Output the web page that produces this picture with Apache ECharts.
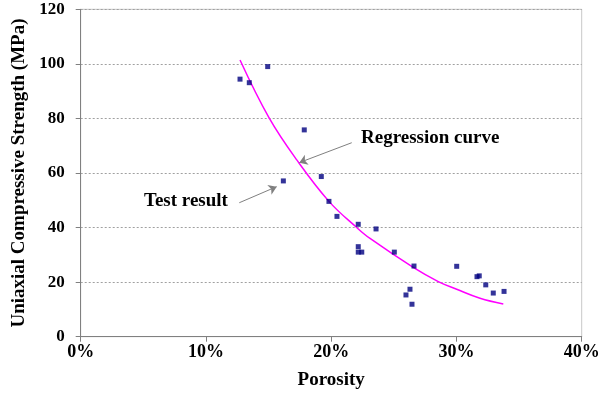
<!DOCTYPE html>
<html>
<head>
<meta charset="utf-8">
<script src="https://cdn.jsdelivr.net/npm/echarts@6/dist/echarts.min.js"></script>
<style>html,body{margin:0;padding:0;background:#fff}#c{width:598px;height:401px}</style>
</head>
<body>
<div id="c"></div>
<script>
// Test results: porosity (%) and UCS (MPa)
var porosity = [12.72, 13.46, 14.93, 17.85, 16.18, 19.21, 19.82, 20.46, 22.16, 23.58, 22.16, 22.16, 22.44, 25.04, 26.61, 30.02, 31.64, 31.82, 32.34, 32.94, 33.80, 26.29, 25.97, 26.45];
var strength = [94.4, 93.1, 99.0, 75.8, 57.1, 58.7, 49.6, 44.1, 41.2, 39.5, 33.0, 31.0, 31.0, 31.0, 25.9, 25.8, 22.0, 22.3, 19.0, 16.0, 16.6, 17.4, 15.3, 11.9];
// Regression curve
var curveX = [12.72, 15.03, 17.25, 19.82, 22.04, 23.10, 26.55, 28.55, 30.02, 31.88, 33.74];
var curveY = [101.4, 80.3, 64.8, 49.6, 40.0, 36.0, 25.4, 20.2, 17.4, 14.1, 12.0];
var xTicks = [0, 10, 20, 30, 40];
var yTicks = [0, 20, 40, 60, 80, 100, 120];

var pts = porosity.map(function (x, i) { return [x, strength[i]]; });
var curve = curveX.map(function (x, i) { return [x, curveY[i]]; });

var font = '"Liberation Serif", "Times New Roman", serif';
var chart = echarts.init(document.getElementById('c'));
chart.setOption({
  animation: false,
  backgroundColor: '#fff',
  grid: { left: 80.7, right: 16.3, top: 9.3, bottom: 64.3, show: true, borderColor: '#c8c8c8', borderWidth: 1,
    containLabel: false, outerBoundsMode: 'none' },
  xAxis: {
    type: 'value', min: xTicks[0], max: xTicks[xTicks.length - 1], interval: 10,
    name: 'Porosity', nameLocation: 'middle', nameGap: 34,
    nameTextStyle: { fontFamily: font, fontWeight: 'bold', fontSize: 19, color: '#000' },
    axisLine: { show: true, lineStyle: { color: '#808080', width: 1 } },
    axisTick: { show: true, length: 5, lineStyle: { color: '#808080' } },
    axisLabel: { fontFamily: font, fontWeight: 'bold', fontSize: 18, color: '#000', margin: 7,
      formatter: function (v) { return v + '%'; } },
    splitLine: { show: false }
  },
  yAxis: {
    type: 'value', min: yTicks[0], max: yTicks[yTicks.length - 1], interval: 20,
    name: 'Uniaxial Compressive Strength (MPa)', nameLocation: 'middle', nameGap: 52,
    nameTextStyle: { fontFamily: font, fontWeight: 'bold', fontSize: 19, color: '#000' },
    axisLine: { show: true, lineStyle: { color: '#808080', width: 1 } },
    axisTick: { show: true, length: 5, lineStyle: { color: '#808080' } },
    axisLabel: { fontFamily: font, fontWeight: 'bold', fontSize: 17, color: '#000', margin: 16 },
    splitLine: { show: true, lineStyle: { color: '#a0a0a0', type: [2, 2], width: 1 } }
  },
  series: [
    {
      type: 'line', data: curve, smooth: 0.4, symbol: 'none',
      lineStyle: { color: '#ff00ff', width: 1.5 },
      z: 2,
      markLine: {
        silent: true, symbol: ['none', 'arrow'], symbolSize: 8,
        lineStyle: { color: '#808080', width: 1, type: 'solid' },
        itemStyle: { color: '#808080' },
        label: { show: false },
        data: [
          [{ coord: [21.64, 71.1], symbol: 'none' }, { coord: [17.45, 63.8], symbol: 'arrow', symbolSize: 8 }],
          [{ coord: [12.66, 49.1], symbol: 'none' }, { coord: [15.65, 55.0], symbol: 'arrow', symbolSize: 8 }]
        ]
      }
    },
    {
      type: 'scatter', data: pts, symbol: 'rect', symbolSize: 5,
      itemStyle: { color: '#000080' }, z: 3
    }
  ],
  graphic: [
    { type: 'text', left: 361, top: 129, style: { text: 'Regression curve', font: 'bold 19px ' + font, fill: '#000' } },
    { type: 'text', left: 144, top: 192, style: { text: 'Test result', font: 'bold 19px ' + font, fill: '#000' } }
  ]
});
</script>
</body>
</html>
